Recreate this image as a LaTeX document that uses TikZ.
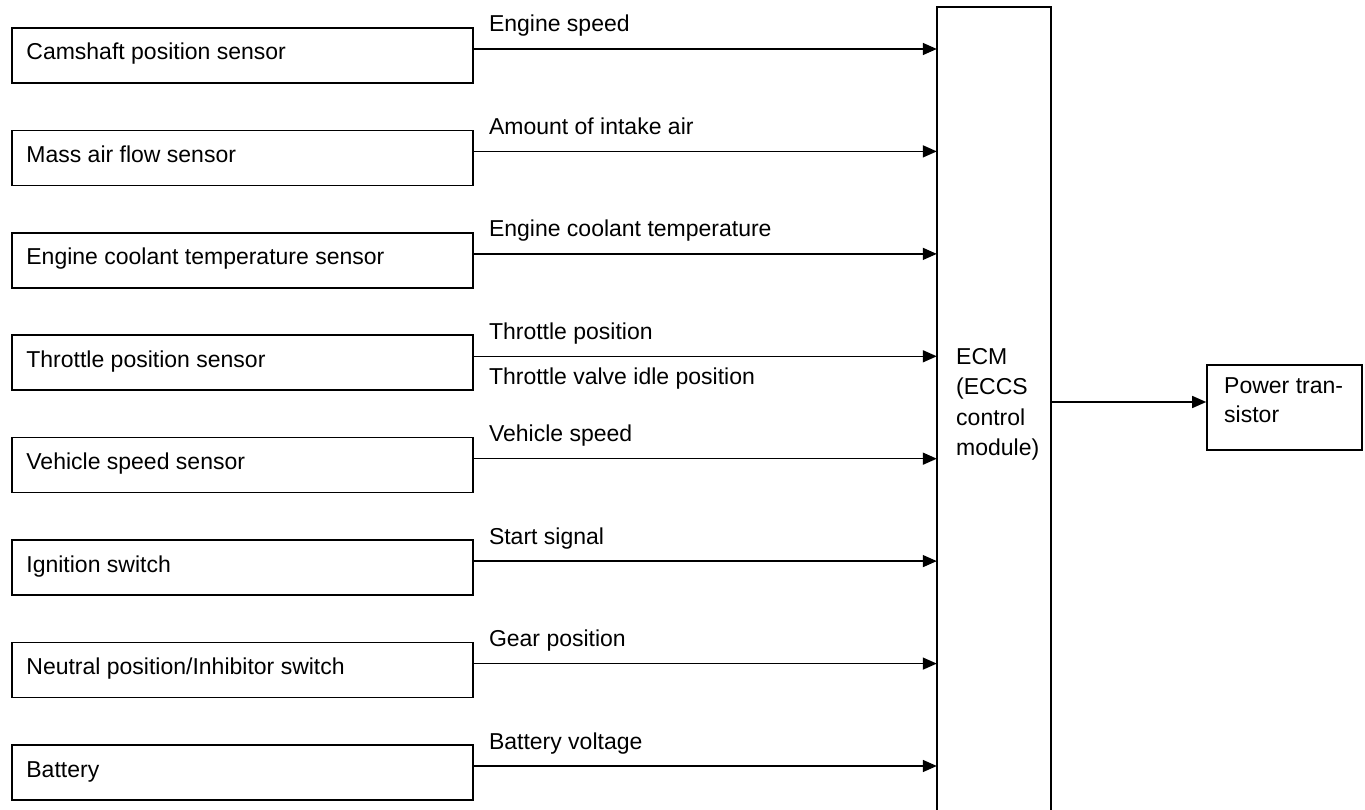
\documentclass[tikz,border=0pt]{standalone}
\usepackage{fontspec}
\setmainfont{Liberation Sans}
\usetikzlibrary{arrows.meta}

\tikzset{
  x=1pt, y=1pt,
  inbox/.style={draw, line width=1.6pt, minimum width=461pt, minimum height=55pt, inner sep=0pt},
  boxtxt/.style={inner sep=0pt, font=\fontsize{23}{29}\selectfont},
  lbl/.style={inner sep=0pt, font=\fontsize{23}{29}\selectfont},
  sig/.style={line width=1.5pt, -{Triangle[length=14pt,width=12pt]}},
  frame/.style={line width=1.6pt},
}

\begin{document}
\begin{tikzpicture}
\useasboundingbox (0,0) rectangle (1365,809);

% ECM column (open at the bottom)
\node[minimum width=114pt, minimum height=804pt, inner sep=0pt] (ecm) at (994,400) {};
\draw[frame] (ecm.south west) -- (ecm.north west) -- (ecm.north east) -- (ecm.south east);
\node[anchor=north west, inner sep=0pt, align=left, font=\fontsize{23}{30.5}\selectfont] (ecmtxt) at (956,461)
  {ECM\\(ECCS\\control\\module)};

% Input sensors
\node[inbox] (b1) at (242.5,753.5) {};
\node[inbox] (b2) at (242.5,651.1) {};
\node[inbox] (b3) at (242.5,548.6) {};
\node[inbox] (b4) at (242.5,446.2) {};
\node[inbox] (b5) at (242.5,343.8) {};
\node[inbox] (b6) at (242.5,241.4) {};
\node[inbox] (b7) at (242.5,138.9) {};
\node[inbox] (b8) at (242.5,36.5) {};

\node[boxtxt, anchor=base west] (t1) at ([xshift=15pt,yshift=-4.5pt]b1.west) {Camshaft position sensor};
\node[boxtxt, anchor=base west] (t2) at ([xshift=15pt,yshift=-4.5pt]b2.west) {Mass air flow sensor};
\node[boxtxt, anchor=base west] (t3) at ([xshift=15pt,yshift=-4.5pt]b3.west) {Engine coolant temperature sensor};
\node[boxtxt, anchor=base west] (t4) at ([xshift=15pt,yshift=-4.5pt]b4.west) {Throttle position sensor};
\node[boxtxt, anchor=base west] (t5) at ([xshift=15pt,yshift=-4.5pt]b5.west) {Vehicle speed sensor};
\node[boxtxt, anchor=base west] (t6) at ([xshift=15pt,yshift=-4.5pt]b6.west) {Ignition switch};
\node[boxtxt, anchor=base west] (t7) at ([xshift=15pt,yshift=-4.5pt]b7.west) {Neutral position/Inhibitor switch};
\node[boxtxt, anchor=base west] (t8) at ([xshift=15pt,yshift=-4.5pt]b8.west) {Battery};

% Signal lines into the ECM
\coordinate (s1) at ([yshift=6.5pt]b1.east);
\coordinate (s2) at ([yshift=6.5pt]b2.east);
\coordinate (s3) at ([yshift=6.5pt]b3.east);
\coordinate (s4) at ([yshift=6.5pt]b4.east);
\coordinate (s5) at ([yshift=6.5pt]b5.east);
\coordinate (s6) at ([yshift=6.5pt]b6.east);
\coordinate (s7) at ([yshift=6.5pt]b7.east);
\coordinate (s8) at ([yshift=6.5pt]b8.east);

\draw[sig] (s1) -- (s1 -| ecm.west);
\draw[sig] (s2) -- (s2 -| ecm.west);
\draw[sig] (s3) -- (s3 -| ecm.west);
\draw[sig] (s4) -- (s4 -| ecm.west);
\draw[sig] (s5) -- (s5 -| ecm.west);
\draw[sig] (s6) -- (s6 -| ecm.west);
\draw[sig] (s7) -- (s7 -| ecm.west);
\draw[sig] (s8) -- (s8 -| ecm.west);

\node[lbl, anchor=base west] (l1) at ([xshift=15pt,yshift=17pt]s1) {Engine speed};
\node[lbl, anchor=base west] (l2) at ([xshift=15pt,yshift=17pt]s2) {Amount of intake air};
\node[lbl, anchor=base west] (l3) at ([xshift=15pt,yshift=17pt]s3) {Engine coolant temperature};
\node[lbl, anchor=base west] (l4) at ([xshift=15pt,yshift=17pt]s4) {Throttle position};
\node[lbl, anchor=base west] (l4b) at ([xshift=15pt,yshift=-28pt]s4) {Throttle valve idle position};
\node[lbl, anchor=base west] (l5) at ([xshift=15pt,yshift=17pt]s5) {Vehicle speed};
\node[lbl, anchor=base west] (l6) at ([xshift=15pt,yshift=17pt]s6) {Start signal};
\node[lbl, anchor=base west] (l7) at ([xshift=15pt,yshift=17pt]s7) {Gear position};
\node[lbl, anchor=base west] (l8) at ([xshift=15pt,yshift=17pt]s8) {Battery voltage};

% Output
\node[draw, line width=1.6pt, minimum width=155pt, minimum height=85pt, inner sep=0pt] (pt) at (1284.5,401.5) {};
\node[anchor=north west, inner sep=0pt, align=left, font=\fontsize{23}{29}\selectfont] (pttxt) at (1224,432)
  {Power tran-\\sistor};
\coordinate (pin) at ([yshift=5.5pt]pt.west);
\draw[sig] (pin -| ecm.east) -- (pin);
\end{tikzpicture}
\end{document}
